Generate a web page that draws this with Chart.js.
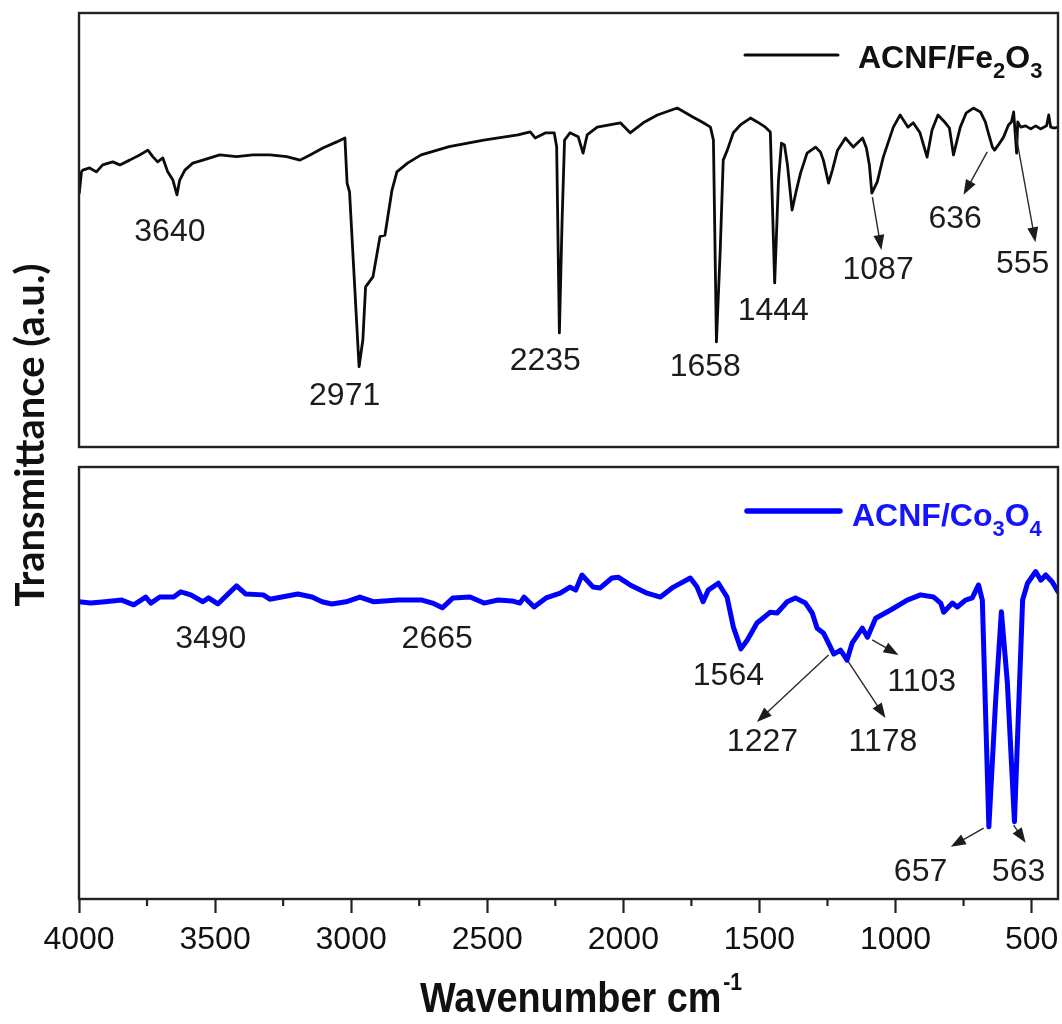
<!DOCTYPE html>
<html><head><meta charset="utf-8">
<script src="https://cdn.jsdelivr.net/npm/chart.js@4.4.1/dist/chart.umd.min.js"></script>
<style>
html,body{margin:0;padding:0;background:#fff;}
#wrap{position:relative;width:1062px;height:1024px;background:#fff;}
canvas{position:absolute;left:0;top:0;}
</style></head><body>
<div id="wrap"><canvas id="c1" width="1062" height="1024"></canvas><canvas id="c2" width="1062" height="1024"></canvas></div>
<script>
// ---------- data ----------
const xRange = [403, 4000];
const xTickValues = [4000,3500,3000,2500,2000,1500,1000,500];
const xMinorTickValues = [3750,3250,2750,2250,1750,1250,750];

const fe2o3Label = 'ACNF/Fe₂O₃';
const fe2o3Wavenumber = [3999,3991,3986,3961,3936,3913,3876,3850,3814,3777,
 3747,3729,3711,3692,3674,3655,3640,3630,3611,3582,
 3545,3483,3421,3361,3298,3237,3188,3151,3104,3053,
 3023,3015,3006,2971,2957,2947,2920,2894,2876,2850,
 2832,2793,2743,2640,2513,2387,2342,2324,2285,2254,
 2245,2235,2225,2216,2196,2166,2148,2133,2096,2011,
 1975,1927,1875,1802,1743,1706,1680,1669,1658,1644,
 1633,1618,1596,1570,1533,1508,1478,1460,1444,1430,
 1419,1408,1397,1380,1364,1349,1325,1294,1276,1265,
 1246,1232,1213,1184,1155,1121,1107,1096,1087,1067,
 1045,1008,983,954,935,910,884,866,844,817,
 802,787,762,740,714,688,670,659,644,636,
 622,603,585,574,566,555,551,540,522,503,
 485,467,445,437,430,415,403];
const fe2o3Transmittance = [58.5,63.4,63.8,64.3,63.4,65.0,65.7,65.0,66.1,67.3,
 68.4,66.9,65.7,66.6,63.4,61.5,58.1,61.5,63.8,65.4,
 66.1,67.3,66.9,67.3,67.3,66.9,66.1,67.3,68.9,70.3,
 71.2,60.8,58.8,18.5,24.7,36.9,39.2,48.5,48.8,59.2,
 63.4,65.4,67.3,69.2,70.7,71.9,72.6,71.2,72.4,72.4,
 69.2,26.3,52.3,70.7,72.4,71.5,67.7,71.9,73.7,74.7,
 72.4,74.7,76.5,78.1,76.0,74.7,73.7,70.7,24.2,45.4,
 66.1,68.4,72.4,74.2,75.8,74.9,73.7,72.6,37.8,61.5,
 70.0,69.6,65.0,54.6,59.2,63.1,67.7,69.1,68.0,66.1,
 60.8,63.8,68.4,71.2,69.1,71.2,68.9,65.0,58.5,61.1,
 66.8,73.7,76.5,73.7,74.7,72.4,66.8,73.0,76.5,74.7,
 73.5,67.3,73.7,77.0,78.1,77.2,74.9,72.4,69.1,68.4,
 69.6,71.4,74.2,74.9,77.2,67.7,74.9,73.7,74.0,73.3,
 74.0,73.3,74.0,76.5,73.7,73.5,73.7];

const co3o4Label = 'ACNF/Co₃O₄';
const co3o4Wavenumber = [4000,3957,3905,3843,3799,3755,3736,3703,3652,3626,
 3589,3545,3524,3490,3449,3421,3387,3323,3299,3196,
 3144,3107,3071,3019,2968,2916,2828,2740,2701,2665,
 2626,2563,2512,2460,2409,2380,2365,2328,2284,2232,
 2196,2175,2152,2111,2085,2042,2019,1975,1913,1864,
 1816,1754,1729,1707,1688,1651,1619,1596,1568,1545,
 1509,1460,1435,1398,1368,1331,1306,1288,1265,1239,
 1227,1202,1178,1159,1122,1103,1073,1018,957,908,
 860,834,823,791,773,743,718,695,681,657,
 632,611,589,563,533,515,485,466,448,424,
 403];
const co3o4Transmittance = [68.8,68.5,68.8,69.2,68.1,69.9,68.5,69.9,69.9,71.1,
 70.4,68.8,69.7,68.3,70.8,72.5,70.6,70.4,69.4,70.6,
 69.9,68.8,68.3,68.8,69.9,68.8,69.2,69.2,68.5,67.4,
 69.7,69.9,68.5,69.2,69.0,68.5,69.9,67.6,69.7,70.8,
 72.2,71.5,75.0,72.2,72.0,74.3,74.5,72.7,70.8,69.9,
 72.2,74.3,72.2,68.8,71.5,73.1,69.9,63.0,57.9,59.9,
 63.9,66.4,66.2,68.8,69.7,68.5,66.2,62.7,61.6,58.3,
 56.7,57.6,55.3,59.3,62.7,60.6,65.0,66.9,69.2,70.4,
 69.9,68.5,66.4,68.5,67.6,69.2,69.7,72.7,69.2,16.7,
 46.1,66.5,50.0,17.9,69.2,73.1,75.8,73.8,75.0,73.4,
 71.1];

// peak annotations (text centre and arrows in data units: wavenumber, transmittance)
const fe2o3PeakText  = ['3640','2971','2235','1658','1444','1087','636','555'];
const fe2o3PeakTextX = [3666,3024,2287,1699,1449,1064,781,533];
const fe2o3PeakTextY = [49.5,11.8,19.8,18.4,31.3,40.8,52.6,42.2];
const fe2o3ArrowFrom = [[1085,57.6],[663,68.0],[559,72.4]];
const fe2o3ArrowTo   = [[1052,45.4],[750,58.1],[486,47.2]];

const co3o4PeakText  = ['3490','2665','1564','1103','1227','1178','657','563'];
const co3o4PeakTextX = [3516,2684,1614,904,1489,1046,908,548];
const co3o4PeakTextY = [60.1,60.1,51.6,50.2,36.3,36.3,6.25,6.25];
const co3o4ArrowFrom = [[1086,60.0],[1246,56.5],[1173,54.9],[676,16.4],[566,17.1]];
const co3o4ArrowTo   = [[989,56.5],[1509,41.0],[1037,41.9],[797,12.1],[522,13.0]];

// ---------- helpers ----------
const SANS = "'Liberation Sans', Arial, Helvetica, sans-serif";
const FRAME_COLOR = '#222';

function pts(xs, ys){ return xs.map((x,i)=>({x:x, y:ys[i]})); }

const framePlugin = {
  id:'frame',
  afterDatasetsDraw(chart){
    const {ctx, chartArea:a} = chart;
    ctx.save(); ctx.strokeStyle = FRAME_COLOR; ctx.lineWidth = 2.4;
    ctx.strokeRect(a.left, a.top, a.right-a.left, a.bottom-a.top);
    ctx.restore();
  }
};

function drawArrow(ctx, x1, y1, x2, y2){
  const ang = Math.atan2(y2-y1, x2-x1), hl = 15, hw = 5.5;
  const c = Math.cos(ang), s = Math.sin(ang);
  ctx.beginPath(); ctx.moveTo(x1,y1); ctx.lineTo(x2-hl*0.8*c, y2-hl*0.8*s); ctx.stroke();
  ctx.beginPath(); ctx.moveTo(x2,y2);
  ctx.lineTo(x2-hl*c+hw*s, y2-hl*s-hw*c);
  ctx.lineTo(x2-hl*c-hw*s, y2-hl*s+hw*c);
  ctx.closePath(); ctx.fill();
}

function annotationPlugin(id, texts, tx, ty, from, to){
  return {
    id: id,
    afterDatasetsDraw(chart){
      const {ctx, scales:{x, y}} = chart;
      ctx.save();
      ctx.fillStyle = '#1c1c1c'; ctx.font = '32px ' + SANS;
      ctx.textAlign = 'center'; ctx.textBaseline = 'middle';
      texts.forEach((t,i)=> ctx.fillText(t, x.getPixelForValue(tx[i]), y.getPixelForValue(ty[i])));
      ctx.strokeStyle = '#2a2a2a'; ctx.fillStyle = '#1c1c1c'; ctx.lineWidth = 1.4;
      from.forEach((f,i)=> drawArrow(ctx, x.getPixelForValue(f[0]), y.getPixelForValue(f[1]),
                                          x.getPixelForValue(to[i][0]), y.getPixelForValue(to[i][1])));
      ctx.restore();
    }
  };
}

// text with unicode subscript digits drawn as smaller, lowered glyphs
const SUBS = '₀₁₂₃₄₅₆₇₈₉';
function drawRichLabel(ctx, label, x, baseY, size, color){
  ctx.save(); ctx.fillStyle = color; ctx.textBaseline = 'alphabetic'; ctx.textAlign = 'left';
  let cx = x;
  for (const ch of label){
    const k = SUBS.indexOf(ch);
    if (k >= 0){
      ctx.font = 'bold ' + Math.round(size*0.68) + 'px ' + SANS;
      ctx.fillText(String(k), cx, baseY + size*0.32);
      cx += ctx.measureText(String(k)).width;
    } else {
      ctx.font = 'bold ' + size + 'px ' + SANS;
      ctx.fillText(ch, cx, baseY);
      cx += ctx.measureText(ch).width;
    }
  }
  ctx.restore();
}

function legendPlugin(id, opts){
  return {
    id: id,
    afterDatasetsDraw(chart){
      const {ctx} = chart;
      const ds = chart.data.datasets[0];
      ctx.save();
      ctx.strokeStyle = ds.borderColor; ctx.lineWidth = opts.lw; ctx.lineCap = 'round';
      ctx.beginPath(); ctx.moveTo(opts.x1, opts.ly); ctx.lineTo(opts.x2, opts.ly); ctx.stroke();
      ctx.restore();
      drawRichLabel(ctx, ds.label, opts.tx, opts.ty, 32, opts.color);
    }
  };
}

const yTitlePlugin = {
  id:'ytitle',
  afterDraw(chart){
    const ctx = chart.ctx;
    ctx.save();
    ctx.translate(31, 435); ctx.rotate(-Math.PI/2);
    ctx.font = 'bold 40px Lato, "Open Sans", sans-serif';
    ctx.fillStyle = '#111'; ctx.textAlign = 'center'; ctx.textBaseline = 'middle';
    ctx.fillText('Transmittance (a.u.)', 0, 0);
    ctx.restore();
  }
};

const xTitlePlugin = {
  id:'xtitle',
  afterDraw(chart){
    const ctx = chart.ctx;
    const main = 'Wavenumber cm', sup = '-1';
    ctx.save();
    ctx.font = 'bold 43px ' + SANS;
    const w1 = ctx.measureText(main).width;
    ctx.font = 'bold 24px ' + SANS;
    const w2 = ctx.measureText(sup).width;
    const sx = 0.88;
    const total = (w1 + w2 + 2) * sx;
    const left = 581 - total/2;
    ctx.translate(left, 1012); ctx.scale(sx, 1);
    ctx.fillStyle = '#111'; ctx.textBaseline = 'alphabetic'; ctx.textAlign = 'left';
    ctx.font = 'bold 43px ' + SANS; ctx.fillText(main, 0, 0);
    ctx.font = 'bold 24px ' + SANS; ctx.fillText(sup, w1 + 2, -22);
    ctx.restore();
  }
};

const minorTickPlugin = {
  id:'minorticks',
  afterDraw(chart){
    const {ctx, chartArea:a, scales:{x}} = chart;
    ctx.save(); ctx.strokeStyle = FRAME_COLOR; ctx.lineWidth = 2.2;
    xMinorTickValues.forEach(v=>{
      const px = x.getPixelForValue(v);
      ctx.beginPath(); ctx.moveTo(px, a.bottom); ctx.lineTo(px, a.bottom + 7); ctx.stroke();
    });
    ctx.restore();
  }
};

Chart.defaults.font.family = SANS;

// ---------- top panel ----------
new Chart(document.getElementById('c1'), {
  type:'line',
  data:{ datasets:[{ label: fe2o3Label, data: pts(fe2o3Wavenumber, fe2o3Transmittance),
    borderColor:'#0b0b0b', borderWidth:2.8, pointRadius:0, tension:0,
    borderJoinStyle:'round', borderCapStyle:'round' }]},
  options:{
    responsive:false, animation:false, devicePixelRatio:1,
    layout:{ padding:{ left:79, top:13, right:4, bottom:577 } },
    scales:{
      x:{ type:'linear', reverse:true, min:xRange[0], max:xRange[1], display:false },
      y:{ min:0, max:100, display:false }
    },
    plugins:{ legend:{display:false}, tooltip:{enabled:false} }
  },
  plugins:[framePlugin,
    annotationPlugin('annTop', fe2o3PeakText, fe2o3PeakTextX, fe2o3PeakTextY, fe2o3ArrowFrom, fe2o3ArrowTo),
    legendPlugin('legTop', {x1:745, x2:838, ly:55, lw:3, tx:858, ty:68, color:'#111'}),
    yTitlePlugin]
});

// ---------- bottom panel ----------
new Chart(document.getElementById('c2'), {
  type:'line',
  data:{ datasets:[{ label: co3o4Label, data: pts(co3o4Wavenumber, co3o4Transmittance),
    borderColor:'#0000ff', borderWidth:5, pointRadius:0, tension:0,
    borderJoinStyle:'round', borderCapStyle:'round' }]},
  options:{
    responsive:false, animation:false, devicePixelRatio:1,
    layout:{ padding:{ left:79, top:467, right:4, bottom:0 } },
    scales:{
      x:{ type:'linear', reverse:true, min:xRange[0], max:xRange[1], position:'bottom',
          afterBuildTicks(scale){ scale.ticks = xTickValues.map(v=>({value:v})); },
          afterFit(scale){ scale.height = 125; scale.paddingLeft = 0; scale.paddingRight = 0; },
          border:{ display:false },
          grid:{ drawOnChartArea:false, drawTicks:true, tickLength:14, tickWidth:2.2, tickColor:FRAME_COLOR },
          ticks:{ autoSkip:false, maxRotation:0, padding:8, color:'#111',
                  font:{ family:SANS, size:32 }, callback:(v)=>String(v) } },
      y:{ min:0, max:100, display:false }
    },
    plugins:{ legend:{display:false}, tooltip:{enabled:false} }
  },
  plugins:[framePlugin, minorTickPlugin, xTitlePlugin,
    annotationPlugin('annBot', co3o4PeakText, co3o4PeakTextX, co3o4PeakTextY, co3o4ArrowFrom, co3o4ArrowTo),
    legendPlugin('legBot', {x1:747, x2:840, ly:511, lw:5.5, tx:852, ty:526, color:'#1414ff'})]
});
</script>
</body></html>
